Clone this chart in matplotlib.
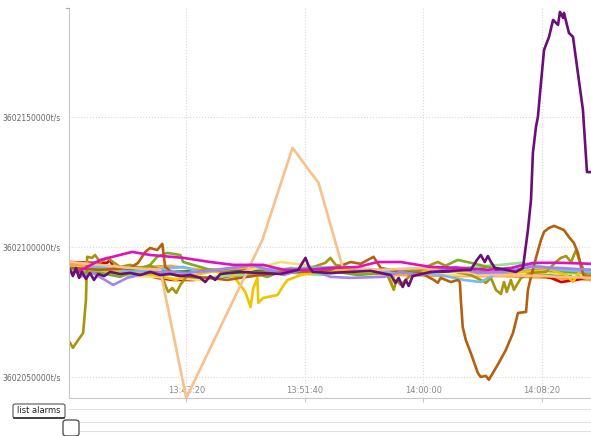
import matplotlib
matplotlib.use("Agg")
import matplotlib.pyplot as plt
from matplotlib.patches import FancyBboxPatch
from matplotlib.lines import Line2D

# ---------------- data ----------------
# time: seconds after 13:35:00 ; value: thousands of t/s above BASE
BASE = 3602000000

peach_t = [10, 137, 263, 390, 500, 821, 948, 1058, 1159, 1320, 1489, 1658, 1827, 1996, 2212]
peach_v = [94.2, 93.1, 91.9, 91.2, 41.9, 102.7, 138.1, 124.6, 92.3, 91.2, 91.9, 90.4, 89.2, 88.8, 88.1]

purple_t = [10, 22, 35, 48, 60, 77, 94, 111, 128, 154, 179, 221, 263, 306, 348, 390, 432, 475, 517, 559,
            580, 601, 622, 644, 728, 813, 897, 973, 990, 1003, 1016, 1033, 1108, 1193, 1278, 1362, 1383,
            1396, 1413, 1426, 1438, 1455, 1531, 1616, 1700, 1726, 1742, 1759, 1772, 1785, 1802, 1848,
            1890, 1920, 1941, 1954, 1962, 1975, 1983, 1996, 2009, 2030, 2047, 2068, 2076, 2089, 2093,
            2114, 2131, 2173, 2190, 2212]
purple_v = [91.2, 88.8, 91.9, 88.1, 90.4, 87.7, 90.0, 87.3, 89.6, 88.8, 90.4, 89.6, 90.0, 89.2, 90.4, 89.2,
            89.6, 88.8, 89.2, 88.1, 86.5, 88.8, 87.3, 89.6, 90.4, 90.0, 89.6, 91.2, 93.9, 95.8, 92.7, 90.4,
            90.0, 90.4, 90.8, 89.2, 86.2, 88.1, 84.6, 87.3, 85.0, 88.8, 90.4, 90.8, 91.2, 95.0, 96.9, 94.2,
            96.5, 94.2, 91.9, 91.2, 90.4, 91.9, 106.5, 118.1, 136.2, 146.2, 150.0, 163.1, 175.8, 180.8,
            187.3, 185.4, 190.4, 188.1, 190.0, 182.3, 180.8, 152.7, 128.8, 128.8]

brown_t = [10, 137, 263, 297, 327, 348, 377, 399, 411, 454, 517, 601, 673, 728, 813, 897, 982, 1108, 1193,
           1235, 1290, 1320, 1404, 1489, 1544, 1561, 1573, 1616, 1645, 1654, 1658, 1666, 1679, 1700, 1730,
           1742, 1764, 1776, 1793, 1818, 1848, 1878, 1899, 1933, 1941, 1954, 1975, 1996, 2009, 2030, 2051,
           2072, 2093, 2114, 2135, 2152, 2165, 2178, 2212]
brown_v = [91.9, 91.2, 91.9, 93.9, 98.1, 99.6, 98.8, 101.2, 92.3, 89.2, 88.5, 88.1, 87.3, 88.1, 89.2, 90.0,
           90.4, 91.2, 94.2, 93.5, 96.2, 91.9, 90.4, 90.0, 87.3, 86.2, 88.1, 86.5, 87.3, 86.5, 79.6, 69.2,
           64.2, 59.2, 51.5, 50.0, 50.4, 48.9, 51.5, 55.4, 60.4, 66.9, 74.6, 75.0, 83.5, 88.5, 95.8, 102.7,
           105.8, 107.3, 108.1, 107.3, 106.5, 103.8, 101.5, 97.7, 92.3, 88.5, 88.5]

olive_t = [10, 22, 44, 65, 77, 82, 103, 115, 137, 166, 192, 221, 263, 306, 348, 390, 411, 424, 441, 458,
           475, 517, 601, 686, 771, 855, 940, 1024, 1087, 1108, 1130, 1193, 1278, 1341, 1362, 1375, 1387,
           1404, 1447, 1531, 1561, 1594, 1637, 1700, 1742, 1764, 1785, 1806, 1827, 1840, 1852, 1869, 1882,
           1912, 1954, 2017, 2059, 2080, 2102, 2123, 2144, 2157, 2173, 2190, 2212]
olive_v = [63.1, 61.2, 64.2, 66.9, 79.6, 96.2, 95.8, 96.9, 94.2, 95.8, 94.2, 92.3, 93.1, 91.9, 92.7, 91.2,
           85.4, 82.7, 84.2, 82.3, 85.4, 90.4, 91.2, 90.4, 90.0, 90.4, 91.2, 91.9, 93.9, 95.8, 93.1, 91.9,
           91.2, 90.4, 86.5, 83.5, 87.3, 85.4, 89.2, 93.1, 94.2, 92.7, 90.4, 89.2, 87.3, 86.2, 88.1, 83.5,
           81.9, 86.5, 82.7, 87.3, 83.5, 88.1, 90.0, 90.4, 94.2, 95.8, 96.5, 94.2, 98.8, 95.0, 91.9, 88.8, 89.2]

yellow_t = [10, 137, 263, 390, 454, 517, 601, 686, 749, 771, 783, 800, 804, 825, 885, 906, 927, 952, 982,
            1066, 1193, 1320, 1354, 1366, 1379, 1489, 1616, 1742, 1912, 2038, 2102, 2131, 2157, 2212]
yellow_v = [91.9, 91.2, 90.4, 88.8, 87.3, 88.8, 90.4, 90.4, 82.7, 76.9, 84.2, 88.1, 78.5, 80.4, 81.5, 84.6,
            87.3, 88.1, 89.2, 90.4, 91.2, 90.4, 88.8, 85.4, 89.6, 90.4, 91.2, 90.0, 90.4, 91.2, 89.2, 86.5,
            90.4, 90.4]

magenta_t = [44, 137, 272, 348, 487, 601, 699, 825, 910, 1011, 1108, 1223, 1307, 1404, 1531, 1658, 1772,
             1869, 1966, 2080, 2212]
magenta_v = [90.4, 95.0, 98.1, 96.9, 95.8, 94.2, 93.1, 93.1, 91.2, 91.2, 91.9, 92.3, 94.2, 94.2, 92.3,
             91.9, 91.2, 91.9, 93.9, 93.9, 93.5]

lavender_t = [52, 107, 192, 251, 335, 432, 504, 631, 783, 910, 1011, 1108, 1193, 1333, 1404, 1489, 1637,
              1730, 1840, 1954, 2080, 2212]
lavender_v = [88.5, 90.0, 85.4, 88.1, 90.0, 90.4, 90.0, 91.2, 93.1, 89.2, 91.9, 88.5, 88.1, 88.5, 90.4,
              89.2, 92.3, 90.0, 90.4, 92.3, 91.9, 91.2]

lightblue_t = [10, 137, 276, 348, 487, 559, 644, 771, 842, 982, 1163, 1265, 1404, 1489, 1573, 1671, 1742,
               1797, 1912, 1996, 2080, 2212]
lightblue_v = [91.2, 92.3, 90.4, 91.2, 92.3, 90.4, 91.2, 93.1, 91.2, 91.9, 92.3, 91.2, 90.0, 90.0, 89.2,
               87.3, 86.5, 89.2, 93.1, 92.3, 91.2, 90.4]

lightgreen_t = [10, 137, 276, 390, 559, 728, 897, 1066, 1235, 1404, 1489, 1658, 1827, 1912, 2080, 2212]
lightgreen_v = [92.3, 90.4, 89.2, 90.0, 88.1, 89.2, 90.4, 89.2, 91.2, 91.2, 90.4, 91.9, 93.1, 93.9, 91.2, 91.2]

green_t = [10, 137, 221, 348, 377, 420, 475, 487, 631, 771, 842, 940, 1054, 1138, 1223, 1489, 1573, 1645,
           1700, 1772, 1882, 1983, 2080, 2212]
green_v = [90.4, 90.0, 88.5, 93.1, 96.2, 97.7, 96.9, 94.2, 90.4, 90.0, 88.5, 91.9, 90.4, 90.4, 89.2, 91.2,
           91.9, 95.0, 93.9, 92.3, 90.4, 91.2, 90.4, 90.0]

red_t = [10, 107, 166, 179, 192, 276, 377, 445, 530, 728, 897, 1066, 1235, 1404, 1573, 1700, 1785, 1806,
         1912, 2038, 2080, 2144, 2212]
red_v = [94.2, 93.9, 93.9, 95.0, 92.3, 90.4, 88.1, 87.3, 87.3, 89.2, 90.4, 90.4, 90.4, 90.0, 90.4, 91.2,
         92.7, 91.2, 90.4, 88.1, 86.5, 87.3, 88.8]

orange_t = [10, 221, 432, 559, 771, 982, 1193, 1404, 1616, 1827, 2038, 2212]
orange_v = [93.1, 91.9, 92.7, 91.2, 91.9, 90.4, 90.0, 89.2, 88.8, 88.8, 88.1, 87.3]

paleyellow_t = [10, 221, 432, 559, 686, 771, 897, 994, 1096, 1235, 1404, 1616, 1827, 2038, 2212]
paleyellow_v = [90.4, 89.2, 88.1, 87.3, 89.2, 91.2, 94.2, 93.1, 91.2, 90.4, 90.0, 89.2, 89.2, 90.0, 89.2]

darkgreen_t = [10, 221, 432, 686, 982, 1235, 1404, 1573, 1742, 1912, 2080, 2110, 2135, 2165, 2212]
darkgreen_v = [91.9, 91.2, 90.4, 91.2, 91.2, 90.4, 91.2, 90.8, 90.4, 89.6, 88.8, 90.0, 87.3, 89.6, 89.6]

x_ticks = [500, 1000, 1500, 2000]
x_tick_labels = ["13:43:20", "13:51:40", "14:00:00", "14:08:20"]
y_ticks = [3602050000, 3602100000, 3602150000]
y_tick_labels = [f"{v}t/s" for v in y_ticks]

series = [
    (darkgreen_t, darkgreen_v, "#1f8f1f"),
    (orange_t, orange_v, "#ffa030"),
    (red_t, red_v, "#d60000"),
    (paleyellow_t, paleyellow_v, "#f3e26a"),
    (lightgreen_t, lightgreen_v, "#8ee48a"),
    (green_t, green_v, "#7aad22"),
    (yellow_t, yellow_v, "#f0c400"),
    (olive_t, olive_v, "#a8940f"),
    (lightblue_t, lightblue_v, "#72bcf2"),
    (brown_t, brown_v, "#b5600e"),
    (peach_t, peach_v, "#f8c08a"),
    (lavender_t, lavender_v, "#a383f2"),
    (magenta_t, magenta_v, "#e010c0"),
    (purple_t, purple_v, "#6a0f78"),
]

# ---------------- figure ----------------
W, H = 591, 436
fig = plt.figure(figsize=(W / 100, H / 100), dpi=100)
ax = fig.add_axes([69 / W, 38 / H, 1 - 69 / W + 0.002, 390 / H])

for t, v, c in series:
    ax.plot(t, [BASE + 1000 * k for k in v], color=c, lw=1.9, solid_joinstyle="round")

ax.set_xlim(5.5, 2212)
ax.set_ylim(3602041900, 3602191900)

ax.set_xticks(x_ticks)
ax.set_xticklabels(x_tick_labels, fontsize=6, color="#8a8a8a")
ax.set_yticks(y_ticks)
ax.set_yticklabels(y_tick_labels, fontsize=5.5, color="#666666")
ax.tick_params(axis="x", direction="out", length=3, width=0.6, color="#bbbbbb", pad=-12)
ax.tick_params(axis="y", length=0, pad=6)
ax.grid(True, color="#d8d8d8", linestyle=":", linewidth=0.8)
ax.set_axisbelow(True)
for s in ["top", "right"]:
    ax.spines[s].set_visible(False)
ax.spines["left"].set_color("#c8c8c8")
ax.spines["left"].set_linewidth(0.8)
ax.spines["bottom"].set_color("#c8c8c8")
ax.spines["bottom"].set_linewidth(0.8)


def fx(x):
    return x / W


def fy(y):
    return (H - y) / H


# small top tick on left axis
fig.add_artist(Line2D([fx(66), fx(69)], [fy(8), fy(8)], color="#aaaaaa", lw=0.8))

# horizontal rule lines beneath chart
for yy, x0 in [(409, 68), (422, 80), (431, 80)]:
    fig.add_artist(Line2D([fx(x0), 1], [fy(yy), fy(yy)], color="#e2e2e2", lw=0.8))

# "list alarms" button
btn = FancyBboxPatch((fx(13), fy(418)), fx(52), 14 / H,
                     boxstyle="round,pad=0,rounding_size=0.004",
                     transform=fig.transFigure, facecolor="white", edgecolor="#555555", lw=0.8)
fig.add_artist(btn)
fig.add_artist(Line2D([fx(14), fx(64)], [fy(417.5), fy(417.5)], color="#333333", lw=1.2))
fig.text(fx(39), fy(410.5), "list alarms", fontsize=6, color="#222222", ha="center", va="center")

# checkbox
cb = FancyBboxPatch((fx(63), fy(436)), fx(16), 16 / H,
                    boxstyle="round,pad=0,rounding_size=0.006",
                    transform=fig.transFigure, facecolor="white", edgecolor="#444444", lw=0.9)
fig.add_artist(cb)

fig.savefig("out.png", dpi=100)
